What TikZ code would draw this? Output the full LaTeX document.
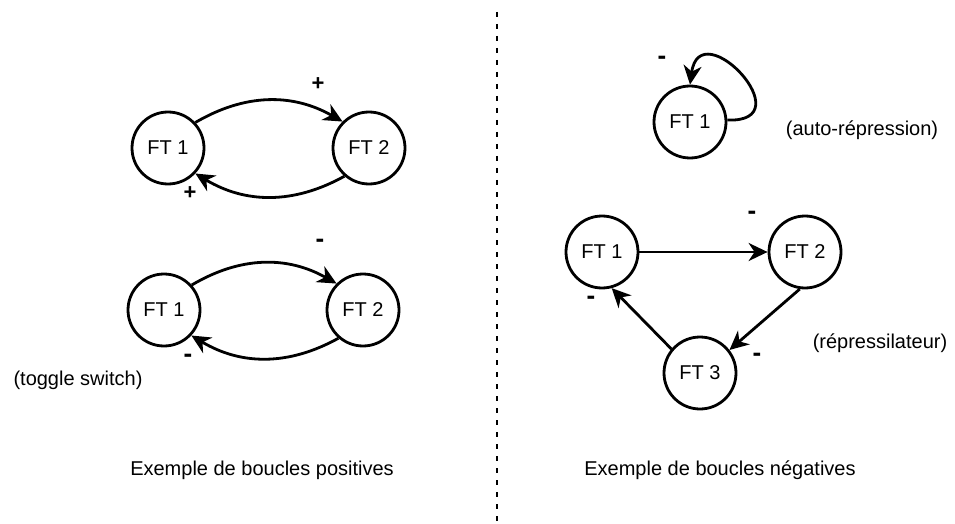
\documentclass[tikz,border=0pt]{standalone}
\usepackage{fontspec}
\setmainfont{Liberation Sans}
\usetikzlibrary{arrows.meta}
\begin{document}
\begin{tikzpicture}[x=1pt,y=1pt,
  ft/.style={circle,draw,line width=2.8pt,minimum size=72pt,inner sep=0pt,font=\fontsize{20}{24}\selectfont},
  arr/.style={line width=2.8pt,-{Stealth[length=19pt,width=18pt,inset=6pt]}},
  sgn/.style={font=\fontsize{22}{26}\selectfont\bfseries},
  msgn/.style={font=\fontsize{26}{30}\selectfont\bfseries},
  txt/.style={font=\fontsize{20}{24}\selectfont}]
\useasboundingbox (0,0) rectangle (955,523);
% positive loops
\node[ft] (p1) at (168,375) {FT 1};
\node[ft] (p2) at (369,375) {FT 2};
\draw[arr] (p1.43) to[bend left=30] (p2.135);
\draw[arr] (p2.229) to[bend left=30] (p1.317);
\node[sgn] (sp1) at (318,439) {+};
\node[sgn] (sp2) at (190,330) {+};
\node[ft] (t1) at (164,213) {FT 1};
\node[ft] (t2) at (363,213) {FT 2};
\draw[arr] (t1.42) to[bend left=30] (t2.135);
\draw[arr] (t2.229) to[bend left=30] (t1.317);
\node[msgn] (st1) at (320,280) {-};
\node[msgn] (st2) at (188,165) {-};
\node[txt] (toggle) at (78,143) {(toggle switch)};
\node[txt] (cap1) at (262,53) {Exemple de boucles positives};
% divider
\coordinate (d1) at (497,511);
\coordinate (d2) at (497,0);
\draw[line width=2.5pt,dash pattern=on 5pt off 7pt] (d1) -- (d2);
% negative loops
\node[ft] (a1) at (690,401) {FT 1};
\draw[arr] (a1.3) .. controls (805,400) and (700,512) .. (a1.90);
\node[msgn] (sa) at (662,463) {-};
\node[txt] (auto) at (862,393) {(auto-répression)};
\node[ft] (r1) at (602,271) {FT 1};
\node[ft] (r2) at (805,271) {FT 2};
\node[ft] (r3) at (700,150) {FT 3};
\draw[arr] (r1.east) -- (r2.west);
\draw[arr] (r2.262) -- (r3.38);
\draw[arr] (r3.140) -- (r1.285);
\node[msgn] (sr1) at (752,308) {-};
\node[msgn] (sr2) at (591,223) {-};
\node[msgn] (sr3) at (757,166) {-};
\node[txt] (rep) at (880,180) {(répressilateur)};
\node[txt] (cap2) at (720,53) {Exemple de boucles négatives};
\end{tikzpicture}
\end{document}
